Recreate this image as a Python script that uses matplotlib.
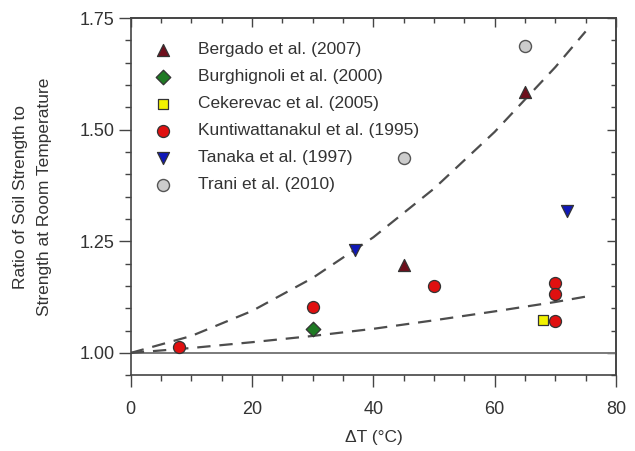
import matplotlib
matplotlib.use("Agg")
import matplotlib.pyplot as plt
from matplotlib.ticker import MultipleLocator

plt.rcParams["font.family"] = ["Liberation Sans", "DejaVu Sans"]

# measured strength ratios, grouped by study
bergado_dt = [45, 65]
bergado_ratio = [1.196, 1.585]
burghignoli_dt = [30]
burghignoli_ratio = [1.054]
cekerevac_dt = [68]
cekerevac_ratio = [1.074]
kunti_dt = [8, 30, 50, 70, 70, 70]
kunti_ratio = [1.014, 1.102, 1.149, 1.156, 1.131, 1.071]
tanaka_dt = [37, 72]
tanaka_ratio = [1.23, 1.318]
trani_dt = [45, 65]
trani_ratio = [1.436, 1.688]

# upper and lower bounding trends
trend_dt = [0, 10, 20, 30, 40, 50, 60, 70, 75]
upper_ratio = [1.00, 1.038, 1.094, 1.168, 1.259, 1.368, 1.495, 1.640, 1.72]
lower_ratio = [1.00, 1.011, 1.024, 1.038, 1.054, 1.073, 1.093, 1.114, 1.126]

fig = plt.figure(figsize=(6.35, 4.51), dpi=100)
ax = fig.add_axes([0.206, 0.168, 0.764, 0.792])

ax.axhline(1.0, color="#7a7a7a", lw=1.4, zorder=1)
ax.plot(trend_dt, upper_ratio, color="#4d4d4d", lw=1.6, ls=(0, (6, 4)), zorder=2)
ax.plot(trend_dt, lower_ratio, color="#4d4d4d", lw=1.6, ls=(0, (6, 4)), zorder=2)

edge = dict(edgecolors="#333333", linewidths=0.9, zorder=3)
ax.scatter(bergado_dt, bergado_ratio, marker="^", c="#6e0f1c", s=75,
           label="Bergado et al. (2007)", **edge)
ax.scatter(burghignoli_dt, burghignoli_ratio, marker="D", c="#1f7a24", s=55,
           label="Burghignoli et al. (2000)", **edge)
ax.scatter(cekerevac_dt, cekerevac_ratio, marker="s", c="#f2f200", s=60,
           label="Cekerevac et al. (2005)", **edge)
ax.scatter(kunti_dt, kunti_ratio, marker="o", c="#e01010", s=75,
           label="Kuntiwattanakul et al. (1995)", **edge)
ax.scatter(tanaka_dt, tanaka_ratio, marker="v", c="#1018b8", s=75,
           label="Tanaka et al. (1997)", **edge)
ax.scatter(trani_dt, trani_ratio, marker="o", c="#cccccc", s=75,
           label="Trani et al. (2010)", edgecolors="#555555", linewidths=1.0, zorder=3)

ax.set_xlim(0, 80)
ax.set_ylim(0.95, 1.75)
ax.set_xticks([0, 20, 40, 60, 80])
ax.set_yticks([1.00, 1.25, 1.50, 1.75])
ax.set_yticklabels(["1.00", "1.25", "1.50", "1.75"])
ax.xaxis.set_minor_locator(MultipleLocator(5))
ax.yaxis.set_minor_locator(MultipleLocator(0.05))

# outward ticks on bottom/left, inward on top/right
ax.tick_params(which="both", colors="#444444", labelcolor="#333333", labelsize=13, width=1)
ax.tick_params(which="major", length=8.5, direction="out", pad=3)
ax.tick_params(which="minor", length=4.5, direction="out")
ax.tick_params(axis="x", which="major", pad=10)
sec_x = ax.secondary_xaxis("top")
sec_x.set_xticks([0, 20, 40, 60, 80])
sec_x.xaxis.set_minor_locator(MultipleLocator(5))
sec_x.tick_params(which="both", direction="in", labeltop=False, colors="#444444", width=1)
sec_x.tick_params(which="major", length=6.5)
sec_x.tick_params(which="minor", length=3.5)
sec_y = ax.secondary_yaxis("right")
sec_y.set_yticks([1.00, 1.25, 1.50, 1.75])
sec_y.yaxis.set_minor_locator(MultipleLocator(0.05))
sec_y.tick_params(which="both", direction="in", labelright=False, colors="#444444", width=1)
sec_y.tick_params(which="major", length=6.5)
sec_y.tick_params(which="minor", length=3.5)
for a in (ax, sec_x, sec_y):
    for sp in a.spines.values():
        sp.set_color("#444444")
        sp.set_linewidth(1.2)

ax.set_xlabel("ΔT (°C)", fontsize=12.5, color="#333333", labelpad=9)
ax.set_ylabel("Ratio of Soil Strength to\nStrength at Room Temperature", fontsize=12.5,
              color="#333333", labelpad=20, linespacing=1.75)

leg = ax.legend(loc="upper left", bbox_to_anchor=(0, 0.983), frameon=False, fontsize=12.5,
                handletextpad=1.2, labelspacing=0.68, borderaxespad=0.55, borderpad=0.5,
                handlelength=1.6, scatterpoints=1)
for t in leg.get_texts():
    t.set_color("#333333")

fig.savefig("out.png", dpi=100)
